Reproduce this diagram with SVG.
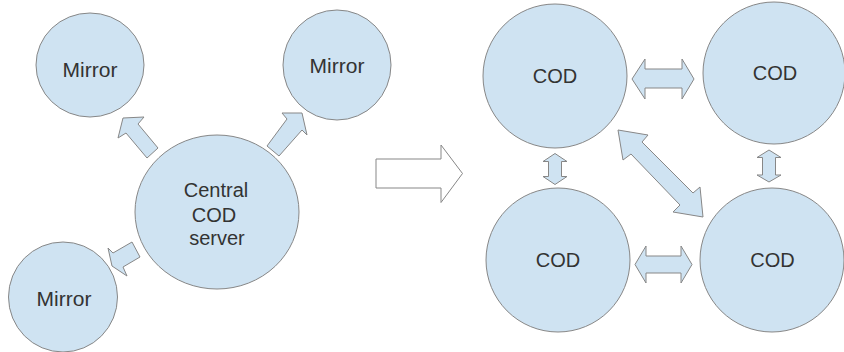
<svg xmlns="http://www.w3.org/2000/svg" width="844" height="352" viewBox="0 0 844 352">
  <style>
    .node { fill: #cfe3f2; stroke: #878787; stroke-width: 1; }
    .label { font-family: "Liberation Sans", Arial, sans-serif; font-size: 20px; fill: #333333; text-anchor: middle; }
    .mirror { font-size: 21px; }
    .link { fill: #cfe3f2; stroke: #878787; stroke-width: 1; stroke-linejoin: miter; }
    .transition { fill: #ffffff; stroke: #878787; stroke-width: 1; }
  </style>
  <rect width="844" height="352" fill="#ffffff"/>

  <!-- Centralised layout: one server feeding three mirrors -->
  <g id="mirror-top-left">
    <ellipse class="node" cx="90" cy="65" rx="54" ry="52"/>
    <text class="label mirror" x="90" y="77">Mirror</text>
  </g>
  <g id="mirror-top-right">
    <ellipse class="node" cx="337" cy="65" rx="54" ry="55"/>
    <text class="label mirror" x="337" y="73">Mirror</text>
  </g>
  <g id="mirror-bottom-left">
    <ellipse class="node" cx="63" cy="297" rx="54.5" ry="55"/>
    <text class="label mirror" x="64" y="306">Mirror</text>
  </g>
  <g id="central-server">
    <ellipse class="node" cx="217" cy="212" rx="82" ry="77"/>
    <text class="label" x="216" y="197">Central</text>
    <text class="label" x="214" y="221.5">COD</text>
    <text class="label" x="217" y="245">server</text>
  </g>

  <!-- Distributed layout: four peer COD nodes -->
  <g id="cod-top-left">
    <circle class="node" cx="555" cy="76" r="72"/>
    <text class="label" x="555" y="83">COD</text>
  </g>
  <g id="cod-top-right">
    <circle class="node" cx="774" cy="73" r="71"/>
    <text class="label" x="775" y="80">COD</text>
  </g>
  <g id="cod-bottom-left">
    <circle class="node" cx="558" cy="260" r="72"/>
    <text class="label" x="558" y="266.5">COD</text>
  </g>
  <g id="cod-bottom-right">
    <circle class="node" cx="772" cy="260" r="72"/>
    <text class="label" x="772.5" y="266.5">COD</text>
  </g>

  <g id="connectors">
    <!-- server to mirrors -->
    <polygon class="link" points="123,118 144,117 138,124 158,148 147,158 126,133 118,138"/>
    <polygon class="link" points="282,113 302,113 307,135 302,130 279,156 267,146 287,119"/>
    <polygon class="link" points="108,248 113,253 132,242 140,257 123,267 127,276 112,266"/>

    <!-- transition from centralised to distributed -->
    <polygon class="transition" points="376,159 441,159 441,145 462.5,173.5 441,202.5 441,188 376,188"/>

    <!-- peer links -->
    <polygon class="link" points="632,79 645,59 645,69 682,69 682,59 694,79 682,99 682,88 645,88 645,99"/>
    <polygon class="link" points="635,264.5 646,246 646,256 681,256 681,246 692,264.5 681,283 681,273 646,273 646,283"/>
    <polygon class="link" points="555,153.5 567,161.5 561.5,161.5 561.5,176.5 567,176.5 555,184.5 543,176.5 548.5,176.5 548.5,161.5 543,161.5"/>
    <polygon class="link" points="769,150 781,157.5 775.5,157.5 775.5,175 781,175 769,182 757,175 762.5,175 762.5,157.5 757,157.5"/>
    <polygon class="link" points="618,130 648,135 642,142 693,193 700,187 703,217 673,212 680,205 631,154 623,160"/>
  </g>
</svg>
